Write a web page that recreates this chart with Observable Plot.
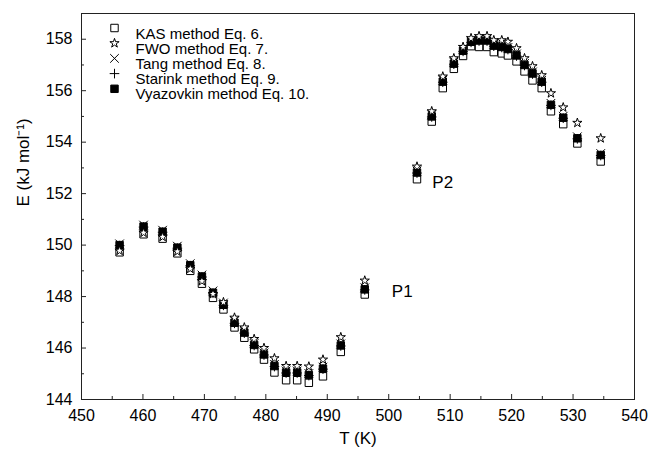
<!DOCTYPE html>
<html>
<head>
<meta charset="utf-8">
<script src="https://cdn.jsdelivr.net/npm/d3@7"></script>
<script src="https://cdn.jsdelivr.net/npm/@observablehq/plot@0.6"></script>
<style>
  html, body { margin: 0; padding: 0; background: #fff; }
</style>
</head>
<body>
<div id="chart"></div>
<script>
const T = [456.2, 460.1, 463.2, 465.6, 467.7, 469.6, 471.4, 473.1, 474.9, 476.5,
           478.1, 479.7, 481.4, 483.3, 485.1, 487.0, 489.3, 492.2, 496.1, 504.6,
           507.0, 508.8, 510.6, 512.1, 513.4, 514.7, 516.0, 517.1, 518.4, 519.4,
           520.8, 522.1, 523.4, 524.9, 526.4, 528.4, 530.7, 534.5];
const kas = [149.72, 150.42, 150.25, 149.68, 149.00, 148.50, 147.95, 147.50, 146.80, 146.40,
             145.95, 145.55, 145.05, 144.75, 144.75, 144.65, 144.90, 145.85, 148.08, 152.56,
             154.80, 156.10, 156.85, 157.35, 157.73, 157.70, 157.70, 157.50, 157.45, 157.37,
             157.14, 156.75, 156.40, 156.10, 155.20, 154.70, 153.95, 153.25];
const fwo = [149.78, 150.48, 150.32, 149.75, 149.08, 148.60, 148.10, 147.78, 147.18, 146.80,
             146.35, 146.00, 145.60, 145.30, 145.30, 145.28, 145.55, 146.42, 148.62, 153.05,
             155.20, 156.55, 157.26, 157.70, 158.04, 158.12, 158.12, 157.96, 157.96, 157.90,
             157.65, 157.26, 156.95, 156.60, 155.90, 155.35, 154.75, 154.15];
const tang = [150.05, 150.78, 150.58, 149.96, 149.28, 148.84, 148.22, 147.75, 147.05, 146.66,
              146.18, 145.81, 145.36, 145.11, 145.11, 145.01, 145.26, 146.16, 148.34, 152.88,
              155.06, 156.41, 157.11, 157.61, 157.96, 158.01, 158.01, 157.81, 157.76, 157.68,
              157.43, 157.06, 156.73, 156.41, 155.51, 155.01, 154.21, 153.56];
const starink = [149.98, 150.70, 150.50, 149.88, 149.20, 148.76, 148.13, 147.66, 146.96, 146.58,
                 146.10, 145.73, 145.28, 145.03, 145.03, 144.93, 145.18, 146.08, 148.26, 152.80,
                 154.98, 156.33, 157.03, 157.53, 157.88, 157.93, 157.93, 157.73, 157.68, 157.60,
                 157.35, 156.98, 156.65, 156.33, 155.43, 154.93, 154.13, 153.48];
const vyaz = [150.00, 150.72, 150.52, 149.90, 149.22, 148.78, 148.15, 147.68, 146.98, 146.60,
              146.12, 145.75, 145.30, 145.05, 145.05, 144.95, 145.20, 146.10, 148.28, 152.82,
              155.00, 156.35, 157.05, 157.55, 157.90, 157.95, 157.95, 157.75, 157.70, 157.62,
              157.37, 157.00, 156.67, 156.35, 155.45, 154.95, 154.15, 153.50];

const seriesNames = ["KAS method Eq. 6.", "FWO method Eq. 7.", "Tang method Eq. 8.",
                     "Starink method Eq. 9.", "Vyazovkin method Eq. 10."];
const xTicks = [450, 460, 470, 480, 490, 500, 510, 520, 530, 540];
const xMinor = [455, 465, 475, 485, 495, 505, 515, 525, 535];
const yTicks = [144, 146, 148, 150, 152, 154, 156, 158];
const yMinor = [145, 147, 149, 151, 153, 155, 157];
const annLabels = ["P1", "P2"];
const annT = [500.5, 507.1];
const annE = [148.2, 152.45];

const W = 652, H = 456;
const mL = 81, mR = 18, mT = 13, mB = 57;
const innerW = W - mL - mR, innerH = H - mT - mB;

const styles = [
  {symbol: "square", fill: "white", stroke: "black", r: 4.2},
  {symbol: "star", fill: "white", stroke: "black", r: 2.9},
  {symbol: "times", fill: "none", stroke: "black", r: 4.0},
  {symbol: "plus", fill: "none", stroke: "black", r: 3.2},
  {symbol: "square", fill: "black", stroke: "black", r: 4.2}
];
const values = [kas, fwo, tang, starink, vyaz];
const series = values.map((v, s) => T.map((t, i) => ({T: t, E: v[i], s})));
const drawOrder = [0, 2, 3, 4, 1];

const marks = [
  Plot.frame({stroke: "#222", strokeWidth: 1}),
  Plot.tickX(xTicks, {x: d => d, insetTop: innerH - 5, stroke: "#222"}),
  Plot.tickX(xMinor, {x: d => d, insetTop: innerH - 3, stroke: "#222"}),
  Plot.tickY(yTicks, {y: d => d, insetRight: innerW - 5, stroke: "#222"}),
  Plot.tickY(yMinor, {y: d => d, insetRight: innerW - 3, stroke: "#222"}),
  Plot.axisX(xTicks, {tickSize: 0, tickPadding: 10, fontSize: 16, label: null, tickFormat: d => String(d)}),
  Plot.axisY(yTicks, {tickSize: 0, tickPadding: 9, fontSize: 16, label: null, tickFormat: d => String(d)}),
  Plot.text(["T (K)"], {frameAnchor: "bottom", dy: 44, text: d => d, fontSize: 17}),
  Plot.text(["E (kJ mol\u207B\u00B9)"], {frameAnchor: "left", dx: -58, rotate: -90, text: d => d, fontSize: 17}),
];
for (const s of drawOrder) {
  const st = styles[s];
  marks.push(Plot.dot(series[s], {x: "T", y: "E", symbol: () => st.symbol, r: st.r,
    fill: st.fill, stroke: st.stroke, strokeWidth: 1}));
}
seriesNames.forEach((name, i) => {
  const st = styles[i];
  marks.push(Plot.dot([name], {frameAnchor: "top-left", dx: 33, dy: 14.5 + i * 15.2,
    symbol: () => st.symbol, r: st.r, fill: st.fill, stroke: st.stroke, strokeWidth: 1}));
  marks.push(Plot.text([name], {frameAnchor: "top-left", dx: 54, dy: 14.5 + i * 15.2,
    text: d => d, textAnchor: "start", fontSize: 15}));
});
marks.push(Plot.text(annLabels.map((l, i) => ({l, T: annT[i], E: annE[i]})),
  {x: "T", y: "E", text: "l", textAnchor: "start", fontSize: 17}));

const chart = Plot.plot({
  width: W, height: H,
  marginLeft: mL, marginRight: mR, marginTop: mT, marginBottom: mB,
  x: {domain: [450, 540]},
  y: {domain: [144, 159]},
  symbol: {type: "identity"},
  style: {fontFamily: "'Liberation Sans', Arial, sans-serif", fontSize: "16px", color: "black", background: "white"},
  marks
});
document.getElementById("chart").appendChild(chart);
</script>
</body>
</html>
